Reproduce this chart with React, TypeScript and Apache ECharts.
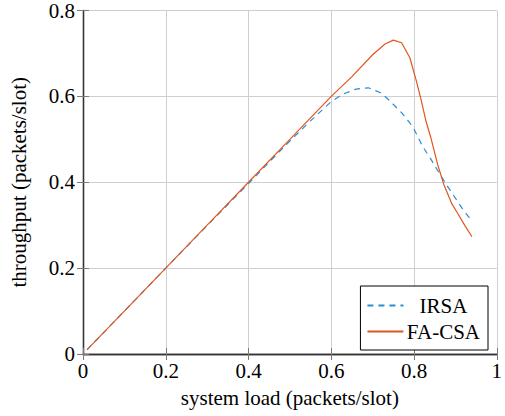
import React, { useEffect, useRef } from "react";
import * as echarts from "echarts";

const irsaLoad = [0.01, 0.1, 0.2, 0.3, 0.4, 0.45, 0.5, 0.55, 0.6, 0.63, 0.66, 0.69, 0.72, 0.74, 0.77, 0.79, 0.8, 0.82, 0.84, 0.86, 0.88, 0.9, 0.92, 0.94];
const irsaThroughput = [0.01, 0.1, 0.2, 0.299, 0.397, 0.447, 0.496, 0.543, 0.588, 0.606, 0.617, 0.62, 0.608, 0.591, 0.562, 0.538, 0.524, 0.485, 0.455, 0.423, 0.392, 0.363, 0.334, 0.31];

const facsaLoad = [0.01, 0.1, 0.2, 0.3, 0.4, 0.5, 0.55, 0.6, 0.65, 0.7, 0.73, 0.75, 0.77, 0.79, 0.806, 0.818, 0.829, 0.841, 0.857, 0.872, 0.892, 0.904, 0.923, 0.94];
const facsaThroughput = [0.01, 0.1, 0.2, 0.3, 0.4, 0.5, 0.55, 0.6, 0.646, 0.697, 0.722, 0.731, 0.725, 0.69, 0.635, 0.589, 0.542, 0.503, 0.442, 0.395, 0.349, 0.33, 0.299, 0.273];

const seriesNames = ["IRSA", "FA-CSA"];
const xTicks = [0, 0.2, 0.4, 0.6, 0.8, 1];
const yTicks = [0, 0.2, 0.4, 0.6, 0.8];

const FONT = "Liberation Serif";
const FS = 21;

export default function App() {
  const ref = useRef<HTMLDivElement>(null);
  useEffect(() => {
    if (!ref.current) return;
    const chart = echarts.init(ref.current, undefined, { renderer: "svg" });
    const fmtX = (v: number) => (xTicks.includes(Math.round(v * 10) / 10) ? String(Math.round(v * 10) / 10) : "");
    const fmtY = (v: number) => (yTicks.includes(Math.round(v * 10) / 10) ? String(Math.round(v * 10) / 10) : "");
    const tickStyle = { show: true, inside: true, length: 6, lineStyle: { color: "#7a7a7a", width: 1 } };
    const gridLine = { show: true, lineStyle: { color: "#cfcfcf", width: 1 } };
    const axisLine = { show: true, lineStyle: { color: "#333", width: 1.3 } };
    const labelText = { fontFamily: FONT, fontSize: FS, color: "#000" };
    chart.setOption({
      animation: false,
      backgroundColor: "#fff",
      textStyle: { fontFamily: FONT },
      grid: { left: 75, right: 4, top: 9, bottom: 62, show: false },
      legend: {
        data: seriesNames,
        orient: "vertical",
        right: 17,
        top: 286,
        itemWidth: 36,
        itemHeight: 12,
        itemGap: 5,
        padding: [9, 8, 8, 6],
        borderColor: "#000",
        borderWidth: 1,
        backgroundColor: "#fff",
        itemStyle: { opacity: 0 },
        formatter: "{a|{name}}",
        textStyle: {
          fontFamily: FONT,
          fontSize: FS,
          color: "#000",
          rich: { a: { fontFamily: FONT, fontSize: FS, color: "#000", width: 70, align: "center" } },
        },
      },
      xAxis: [
        {
          type: "value",
          min: 0,
          max: 1,
          interval: 0.2,
          name: "system load (packets/slot)",
          nameLocation: "middle",
          nameGap: 33,
          nameTextStyle: labelText,
          axisLine,
          axisTick: tickStyle,
          splitLine: gridLine,
          axisLabel: { ...labelText, margin: 6, formatter: fmtX, showMaxLabel: true },
        },
        {
          type: "value",
          position: "top",
          min: 0,
          max: 1,
          interval: 0.2,
          axisLine,
          axisTick: tickStyle,
          splitLine: { show: false },
          axisLabel: { show: false },
        },
      ],
      yAxis: [
        {
          type: "value",
          min: 0,
          max: 0.8,
          interval: 0.2,
          name: "throughput (packets/slot)",
          nameLocation: "middle",
          nameGap: 54,
          nameTextStyle: labelText,
          axisLine,
          axisTick: tickStyle,
          splitLine: gridLine,
          axisLabel: { ...labelText, margin: 8, formatter: fmtY },
        },
        {
          type: "value",
          position: "right",
          min: 0,
          max: 0.8,
          interval: 0.2,
          axisLine,
          axisTick: tickStyle,
          splitLine: { show: false },
          axisLabel: { show: false },
        },
      ],
      series: [
        {
          name: seriesNames[0],
          type: "line",
          symbol: "none",
          data: irsaLoad.map((x, i) => [x, irsaThroughput[i]]),
          lineStyle: { color: "#2a8ed6", width: 1.2, type: [6, 5] },
          itemStyle: { color: "#2a8ed6" },
          z: 3,
        },
        {
          name: seriesNames[1],
          type: "line",
          symbol: "none",
          data: facsaLoad.map((x, i) => [x, facsaThroughput[i]]),
          lineStyle: { color: "#e0561e", width: 1.2 },
          itemStyle: { color: "#e0561e" },
          z: 4,
        },
      ],
    });
    return () => chart.dispose();
  }, []);
  return <div ref={ref} style={{ width: 505, height: 416, position: "absolute", left: 0, top: 0 }} />;
}
